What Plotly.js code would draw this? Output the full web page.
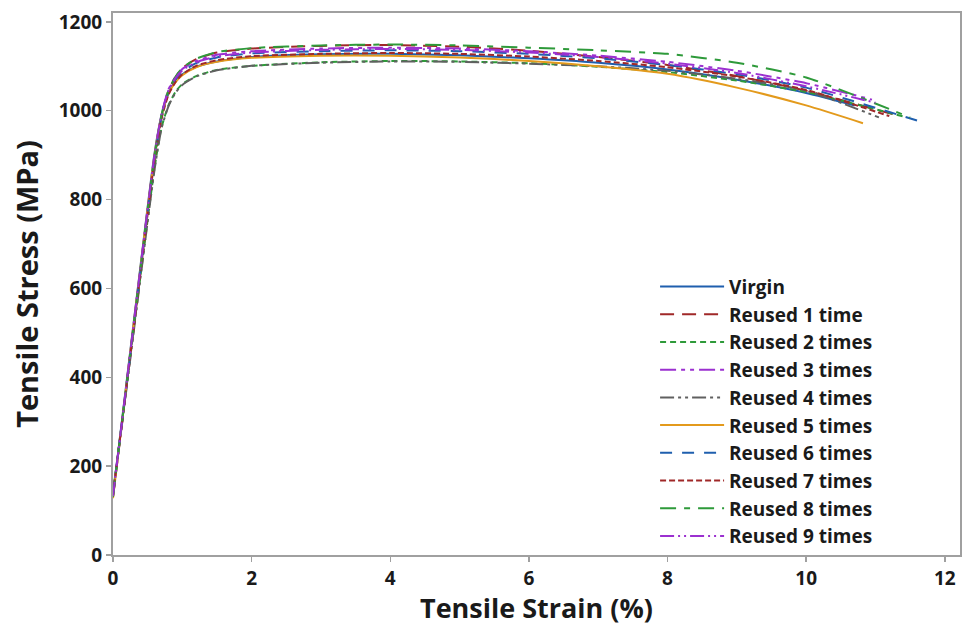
<!DOCTYPE html>
<html><head><meta charset="utf-8">
<script src="https://cdn.plot.ly/plotly-3.0.1.min.js"></script>
<style>html,body{margin:0;padding:0;background:#fff}#chart{width:967px;height:626px}</style>
</head><body><div id="chart"></div>
<script>
// Series names
const seriesNames = ["Virgin","Reused 1 time","Reused 2 times","Reused 3 times","Reused 4 times","Reused 5 times","Reused 6 times","Reused 7 times","Reused 8 times","Reused 9 times"];
// Strain points (%) shared by the curves (last value differs per curve)
const strainBase = [0, 0.2, 0.4, 0.6, 0.7, 0.8, 0.9, 1.0, 1.2, 1.5, 2, 3, 4, 5, 6, 7, 8, 9, 10];
const strainEnd = [10.7, 11.3, 11.45, 10.95, 11.05, 10.82, 11.6, 11.2, 11.5, 11.0];
// Stress values (MPa)
const virgin   = [135, 395, 655, 905, 990, 1040, 1066, 1082, 1099, 1111, 1121, 1127, 1128, 1125, 1118, 1108, 1093, 1070, 1040, 1012];
const reused1  = [130, 385, 645, 895, 985, 1045, 1075, 1096, 1116, 1131, 1140, 1146, 1148, 1144, 1135, 1121, 1103, 1078, 1045, 990];
const reused2  = [140, 385, 632, 872, 962, 1012, 1042, 1060, 1078, 1092, 1101, 1109, 1112, 1111, 1107, 1099, 1087, 1068, 1042, 985];
const reused3  = [132, 390, 650, 900, 992, 1048, 1076, 1094, 1112, 1126, 1134, 1140, 1142, 1140, 1134, 1124, 1110, 1090, 1062, 1025];
const reused4  = [138, 380, 628, 868, 960, 1010, 1040, 1058, 1077, 1091, 1101, 1108, 1111, 1110, 1106, 1100, 1090, 1072, 1045, 985];
const reused5  = [128, 392, 652, 902, 988, 1038, 1064, 1080, 1098, 1110, 1119, 1124, 1124, 1120, 1112, 1100, 1083, 1052, 1012, 972];
const reused6  = [134, 388, 646, 896, 986, 1040, 1070, 1088, 1107, 1120, 1129, 1134, 1136, 1134, 1128, 1118, 1103, 1082, 1052, 978];
const reused7  = [136, 386, 640, 890, 982, 1036, 1064, 1082, 1101, 1114, 1123, 1128, 1130, 1128, 1122, 1112, 1098, 1077, 1047, 988];
const reused8  = [131, 389, 648, 898, 990, 1046, 1076, 1096, 1117, 1132, 1141, 1147, 1149, 1147, 1142, 1136, 1128, 1108, 1075, 985];
const reused9  = [133, 391, 651, 901, 991, 1045, 1073, 1091, 1109, 1122, 1131, 1137, 1139, 1137, 1131, 1121, 1106, 1085, 1055, 1018];
const stressData = [virgin, reused1, reused2, reused3, reused4, reused5, reused6, reused7, reused8, reused9];
// Tick labels
const xTicks = [0, 2, 4, 6, 8, 10, 12];
const yTicks = [0, 200, 400, 600, 800, 1000, 1200];

const colors = ["#1f5fae","#a02828","#2e9a3a","#9b30d0","#606060","#e39a1c","#1f5fae","#a02828","#2e9a3a","#9b30d0"];
const dashes = ["solid","14px,8px","6px,4px","16px,5px,4px,5px,4px,5px","14px,4px,3px,4px,3px,4px","solid","12px,10px","6px,3px","16px,8px,6px,8px","14px,4px,2px,4px,2px,4px"];

const traces = seriesNames.map((n, i) => ({
  type: "scatter", mode: "lines", name: n,
  x: strainBase.concat([strainEnd[i]]),
  y: stressData[i],
  line: {color: colors[i], width: 2, dash: dashes[i], shape: "spline", smoothing: 0.6}
}));

const font = "'Open Sans', 'Noto Sans', sans-serif";
const axCommon = {
  showgrid: false, zeroline: false, showline: true, linecolor: "#a0a0a0", linewidth: 2,
  ticks: "outside", ticklen: 5, tickwidth: 1.5, tickcolor: "#a0a0a0",
  tickfont: {family: font, size: 19, color: "#1a1a1a", weight: "bold"}, mirror: true
};
const layout = {
  width: 967, height: 626,
  margin: {l: 113, r: 7, t: 13, b: 71},
  paper_bgcolor: "#fff", plot_bgcolor: "#fff",
  font: {family: font},
  xaxis: Object.assign({}, axCommon, {range: [0, 12.22], tickvals: xTicks,
    title: {text: "Tensile Strain (%)", font: {family: font, size: 27, color: "#1a1a1a", weight: "bold"}, standoff: 9}}),
  yaxis: Object.assign({}, axCommon, {range: [0, 1220], tickvals: yTicks,
    title: {text: "Tensile Stress (MPa)", font: {family: font, size: 29, color: "#1a1a1a", weight: "bold"}, standoff: 12}}),
  showlegend: true,
  legend: {x: 0.64, y: 0.53, xanchor: "left", yanchor: "top", bgcolor: "rgba(255,255,255,0)",
    font: {family: font, size: 19, color: "#1a1a1a", weight: "bold"}, itemwidth: 64, tracegroupgap: 0}
};
Plotly.newPlot("chart", traces, layout, {displayModeBar: false, staticPlot: true});
</script></body></html>
